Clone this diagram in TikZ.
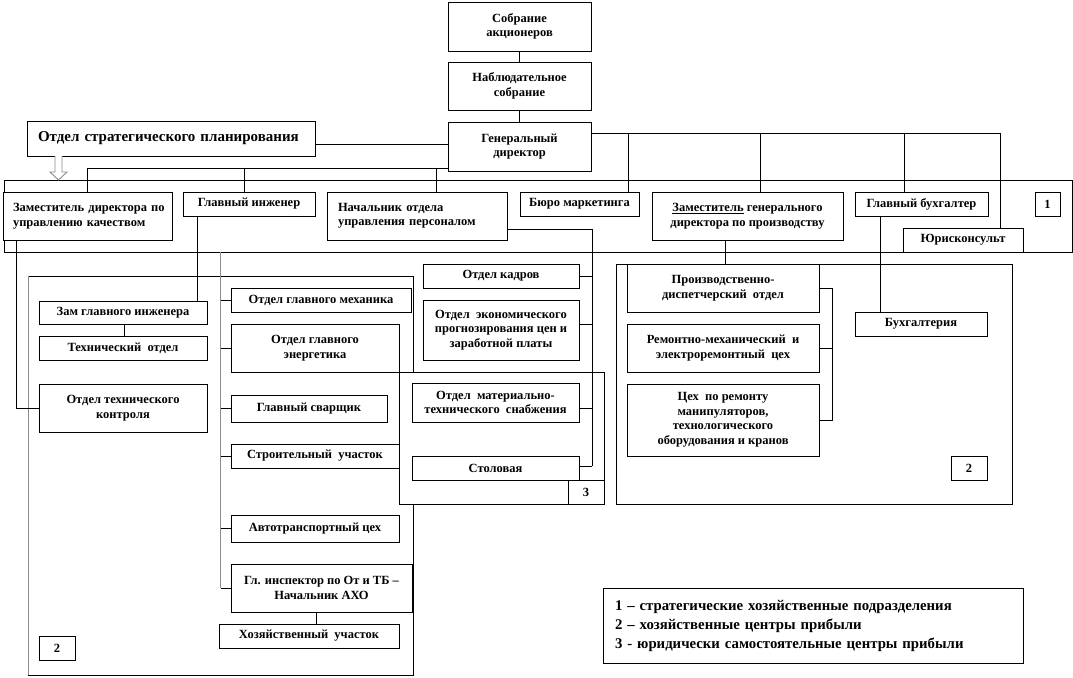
\documentclass[tikz,border=0pt]{standalone}
\usepackage{fontspec}
\setmainfont{Liberation Serif}
\tikzset{
  box/.style={draw, fill=white, line width=0.8pt, inner sep=0pt, align=center,
    font=\fontsize{12.5}{14.5}\selectfont\bfseries},
  ln/.style={line width=0.8pt},
  gln/.style={line width=0.9pt, draw=black!45},
}
\newcommand{\bx}[7][]{%
  \pgfmathsetmacro\bxw{#5-#3}%
  \pgfmathsetmacro\bxh{#6-#4}%
  \pgfmathsetmacro\bxcx{(#3+#5)/2}%
  \pgfmathsetmacro\bxcy{(#4+#6)/2}%
  \node[box,minimum width=\bxw pt,minimum height=\bxh pt,#1] (#2) at (\bxcx,\bxcy) {#7};%
}
\begin{document}
\begin{tikzpicture}[x=1pt,y=-1pt]
\useasboundingbox[fill=white] (0,0) rectangle (1073,677);

% top chain
\bx{sa}{448}{2}{591}{51}{Собрание\\акционеров}
\bx{ns}{448}{62}{591}{110}{Наблюдательное\\собрание}
\bx{gd}{448}{122}{591}{171}{Генеральный\\директор}
\bx[align=left,text width=266pt,font=\fontsize{15}{17}\selectfont\bfseries]{strat}{27}{121}{315}{156}{\mbox{Отдел стратегического планирования}}

% group 1
\draw[ln] (4,180) rectangle (1072,252);
\bx[align=left,text width=149pt]{zdk}{3}{192}{172}{240}{\mbox{Заместитель директора по}\\\mbox{управлению качеством}}
\bx{gi}{183}{192}{315}{216}{Главный инженер}
\bx[align=left,text width=158pt]{nop}{327}{192}{507}{240}{\mbox{Начальник отдела}\\\mbox{управления персоналом}}
\bx{bm}{520}{192}{639}{216}{Бюро маркетинга}
\bx{zgd}{652}{192}{843}{240}{\underline{Заместитель} генерального\\директора по производству}
\bx{gb}{855}{192}{988}{216}{Главный бухгалтер}
\bx{n1}{1035}{192}{1060}{216}{1}
\bx{jur}{903}{228}{1023}{252}{Юрисконсульт}

% open arrow from strategic planning
\draw[gln, fill=white] (55,156) -- (55,172) -- (50,172) -- (58.5,180) -- (67,172) -- (62,172) -- (62,156);

% group 2 (left)
\draw[ln] (28,276) -- (413,276) -- (413,675) -- (28,675);
\draw[gln] (28,276) -- (28,675);
\bx{zgi}{39}{301}{207}{324}{Зам главного инженера}
\bx{to}{39}{336}{207}{360}{Технический\ \ отдел}
\bx{otk}{39}{384}{207}{432}{Отдел технического\\контроля}
\bx{n2a}{39}{636}{75}{660}{2}

\bx{mex}{231}{288}{411}{312}{Отдел главного механика}
\bx{en}{231}{324}{399}{372}{Отдел главного\\энергетика}
\bx{sv}{231}{395}{387}{422}{Главный сварщик}
\bx{st}{231}{444}{399}{468}{Строительный\ \ участок}
\bx{at}{231}{515}{399}{542}{Автотранспортный цех}
\bx{ins}{231}{564}{412}{612}{Гл. инспектор по От и ТБ –\\Начальник АХО}
\bx{hu}{219}{624}{399}{648}{Хозяйственный\ \ участок}

% personnel departments
\bx{ok}{423}{264}{579}{288}{Отдел кадров}
\bx{oep}{423}{300}{579}{360}{Отдел\ \ экономического\\прогнозирования цен и\\заработной платы}

% group 3
\draw[ln, fill=white] (399,372) rectangle (604,504);
\bx{mts}{412}{383}{579}{422}{Отдел\ \ материально-\\технического\ \ снабжения}
\bx{stol}{412}{456}{579}{480}{Столовая}
\bx{n3}{568}{480}{604}{504}{3}

% production group
\draw[ln] (616,264) rectangle (1012,504);
\bx{pdo}{627}{264}{819}{312}{Производственно-\\диспетчерский\ \ отдел}
\bx{rmc}{627}{324}{819}{372}{Ремонтно-механический\ \ и\\электроремонтный\ \ цех}
\bx{crm}{627}{384}{819}{456}{Цех\ \ по ремонту\\манипуляторов,\\технологического\\оборудования и кранов}
\bx{buh}{855}{312}{987}{336}{Бухгалтерия}
\bx{n2b}{951}{456}{987}{480}{2}

% legend
\bx[align=left,text width=396pt,font=\fontsize{14.8}{19}\selectfont\bfseries]{leg}{603}{588}{1023}{663}{1 – стратегические хозяйственные подразделения\\2 – хозяйственные центры прибыли\\3 - юридически самостоятельные центры прибыли}

% connectors: top
\draw[ln] (sa) -- (ns);
\draw[ln] (ns) -- (gd);
\draw[ln] (strat.east |- 0,144) -- (gd.west |- 0,144);
\draw[ln] (gd.west |- 0,168) -- (zdk.north |- 0,168) -- (zdk.north);
\draw[ln] (244,168) -- (244,0 |- gi.north);
\draw[ln] (436,168) -- (436,0 |- nop.north);
\draw[ln] (gd.east |- 0,133) -- (1000,133) -- (1000,0 |- jur.north);
\draw[ln] (628,133) -- (628,0 |- bm.north);
\draw[ln] (760,133) -- (760,0 |- zgd.north);
\draw[ln] (904,133) -- (904,0 |- gb.north);

% connectors: quality / chief engineer
\draw[ln] (16,0 |- zdk.south) -- (16,0 |- otk.west) -- (otk.west);
\draw[ln] (197,0 |- gi.south) -- (197,0 |- zgi.north);
\draw[ln] (124,0 |- zgi.south) -- (124,0 |- to.north);
\draw[gln] (220,252) -- (220,0 |- ins.west);
\foreach \b in {mex,en,sv,st,at,ins}{
  \draw[ln] (221,0 |- \b.west) -- (\b.west);
}
\draw[ln] (316,0 |- ins.south) -- (316,0 |- hu.north);

% connectors: personnel
\draw[ln] (nop.east |- 0,229) -- (592,229) -- (592,466);
\draw[ln] (ok.east) -- (592,0 |- ok.east);
\draw[ln] (oep.east |- 0,324) -- (592,324);
\draw[ln] (mts.east |- 0,408) -- (592,408);
\draw[ln] (stol.east |- 0,466) -- (592,466);

% connectors: production & accounting
\draw[ln] (725,0 |- zgd.south) -- (725,0 |- pdo.north);
\draw[ln] (880,0 |- gb.south) -- (880,0 |- buh.north);
\draw[ln] (pdo.east) -- (832,0 |- pdo.east) -- (832,0 |- crm.east) -- (crm.east);
\draw[ln] (rmc.east) -- (832,0 |- rmc.east);
\end{tikzpicture}
\end{document}
